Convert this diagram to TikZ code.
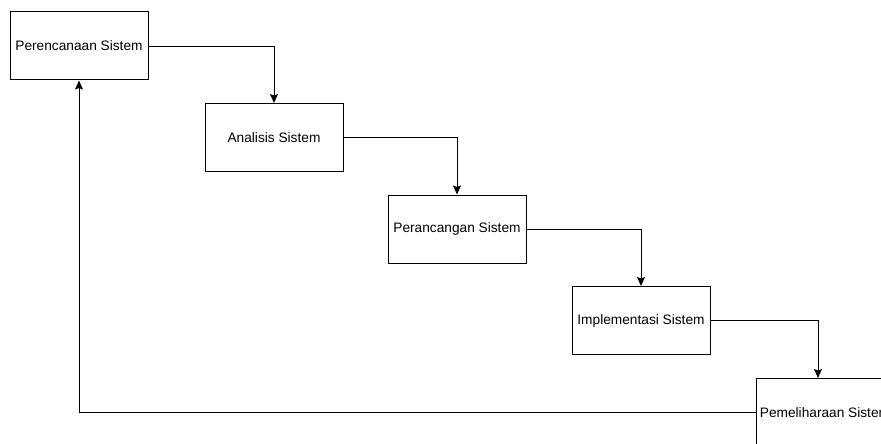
\documentclass[tikz,border=0pt]{standalone}
\usepackage{fontspec}
\setmainfont{Liberation Sans}
\usetikzlibrary{arrows.meta}

\begin{document}
\begin{tikzpicture}[x=1pt, y=-1pt,
	tahap/.style={draw, line width=1pt, minimum width=138pt, minimum height=68pt, inner sep=0pt, font=\fontsize{13.7}{16}\selectfont},
	alur/.style={-{Stealth[length=9pt, width=8pt, inset=1.5pt]}, line width=0.9pt}]
	\useasboundingbox (0,0) rectangle (881,444);
	\clip (0,0) rectangle (881,444);

	\node[tahap] (perencanaan) at (79,46) {Perencanaan Sistem};
	\node[tahap] (analisis) at (274,137.5) {Analisis Sistem};
	\node[tahap] (perancangan) at (457,229) {Perancangan Sistem};
	\node[tahap] (implementasi) at (641,320.5) {Implementasi Sistem};
	\node[tahap] (pemeliharaan) at (825,412.5) {Pemeliharaan Sistem};

	\draw[alur] (perencanaan.east) -| (analisis.north);
	\draw[alur] (analisis.east) -| (perancangan.north);
	\draw[alur] (perancangan.east) -| (implementasi.north);
	\draw[alur] (implementasi.east) -| ([xshift=-7pt]pemeliharaan.north);
	\draw[alur] (pemeliharaan.west) -| (perencanaan.south);
\end{tikzpicture}
\end{document}
